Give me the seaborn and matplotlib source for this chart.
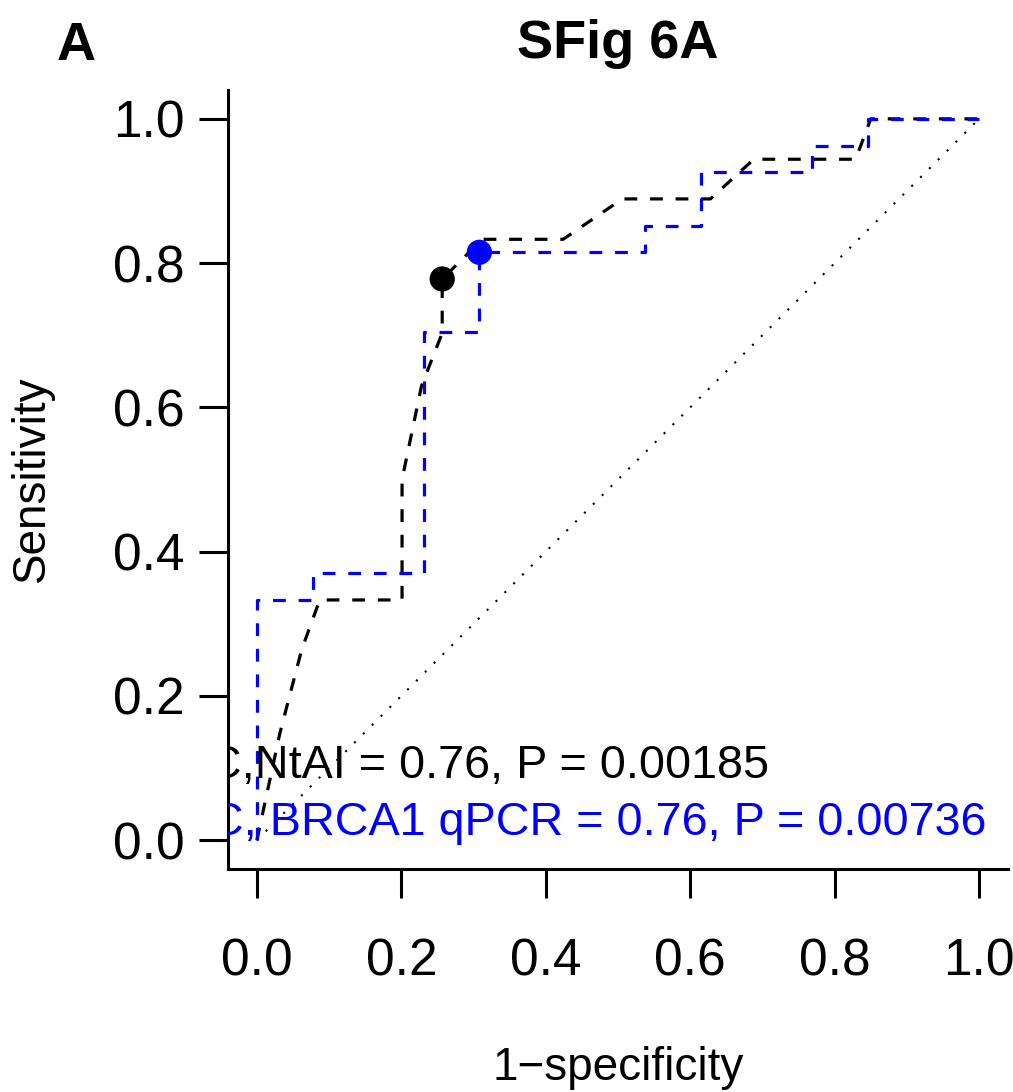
import matplotlib
matplotlib.use("Agg")
import matplotlib.pyplot as plt
import seaborn as sns
import pandas as pd

# ---- data ----
ntai_fpr = [0.0, 0.032, 0.062, 0.087, 0.201, 0.201, 0.228, 0.2566, 0.2566, 0.312, 0.424, 0.506, 0.628, 0.688, 0.829, 0.850, 1.0]
ntai_tpr = [0.0, 0.149, 0.264, 0.333, 0.333, 0.500, 0.630, 0.703, 0.778, 0.833, 0.833, 0.889, 0.889, 0.944, 0.944, 1.000, 1.0]

brca_fpr = [0.0, 0.0, 0.077, 0.077, 0.231, 0.231, 0.308, 0.308, 0.538, 0.538, 0.615, 0.615, 0.769, 0.769, 0.846, 0.846, 1.0]
brca_tpr = [0.0, 0.333, 0.333, 0.370, 0.370, 0.704, 0.704, 0.815, 0.815, 0.852, 0.852, 0.926, 0.926, 0.963, 0.963, 1.0, 1.0]

best_fpr = [0.2566, 0.308]
best_tpr = [0.778, 0.815]
best_names = ["NtAI", "BRCA1 qPCR"]

chance_x = [0.0, 1.0]
chance_y = [0.0, 1.0]

label_ntai = "AUC,NtAI = 0.76, P = 0.00185"
label_brca = "AUC, BRCA1 qPCR = 0.76, P = 0.00736"
ticks = [0.0, 0.2, 0.4, 0.6, 0.8, 1.0]
tick_labels = ["0.0", "0.2", "0.4", "0.6", "0.8", "1.0"]

sns.set_style("ticks")
plt.rcParams['font.family'] = ['Liberation Sans', 'DejaVu Sans']
plt.rcParams['text.color'] = 'black'

W, H = 1013, 1092
fig = plt.figure(figsize=(W / 100, H / 100), dpi=100)
ax = fig.add_axes([228 / W, 1 - 869 / H, (1008 - 228) / W, (869 - 90) / H])

df_n = pd.DataFrame({"fpr": ntai_fpr, "tpr": ntai_tpr})
df_b = pd.DataFrame({"fpr": brca_fpr, "tpr": brca_tpr})
df_c = pd.DataFrame({"x": chance_x, "y": chance_y})
df_p = pd.DataFrame({"fpr": best_fpr, "tpr": best_tpr, "m": best_names})

sns.lineplot(data=df_c, x="x", y="y", sort=False, estimator=None, color="black",
             lw=1.5, linestyle=(0, (1, 5)), ax=ax)
sns.lineplot(data=df_n, x="fpr", y="tpr", sort=False, estimator=None, color="black",
             lw=2.3, linestyle=(0, (4, 4)), ax=ax)
sns.lineplot(data=df_b, x="fpr", y="tpr", sort=False, estimator=None, color="#0000FF",
             lw=2.3, linestyle=(0, (4, 4)), ax=ax)
sns.scatterplot(data=df_p, x="fpr", y="tpr", hue="m", palette={"NtAI": "black", "BRCA1 qPCR": "#0000FF"},
                s=330, edgecolor="none", legend=False, ax=ax, zorder=5)

ax.set_xlim(-0.04, 1.04)
ax.set_ylim(-0.04, 1.04)
ax.set_xticks(ticks)
ax.set_xticklabels(tick_labels)
ax.set_yticks(ticks)
ax.set_yticklabels(tick_labels)
ax.tick_params(axis="both", length=21, width=2.2, labelsize=37, direction="out",
               colors="black", labelcolor="black")
ax.tick_params(axis="x", pad=28)
ax.tick_params(axis="y", pad=10)
for s in ["top", "right"]:
    ax.spines[s].set_visible(False)
for s in ["left", "bottom"]:
    ax.spines[s].set_linewidth(2.2)
    ax.spines[s].set_color("black")
ax.set_xlabel("")
ax.set_ylabel("")

ax.text(0.709, 0.086, label_ntai, ha="right", va="baseline", fontsize=33.7,
        color="black", clip_on=True)
ax.text(1.0097, 0.007, label_brca, ha="right", va="baseline", fontsize=33.7,
        color="#0000FF", clip_on=True)

fig.text(618 / W, 1 - 1068 / H, "1\u2212specificity", ha="center", va="center",
         fontsize=33, color="black")
fig.text(32 / W, 1 - 479 / H, "Sensitivity", ha="center", va="center", rotation=90,
         fontsize=33, color="black")
fig.text(618 / W, 1 - 58 / H, "SFig 6A", ha="center", va="baseline", fontsize=39,
         fontweight="bold", color="black")
fig.text(57 / W, 1 - 60 / H, "A", ha="left", va="baseline", fontsize=39,
         fontweight="bold", color="black")

fig.savefig("out.png", dpi=100, facecolor="white")
